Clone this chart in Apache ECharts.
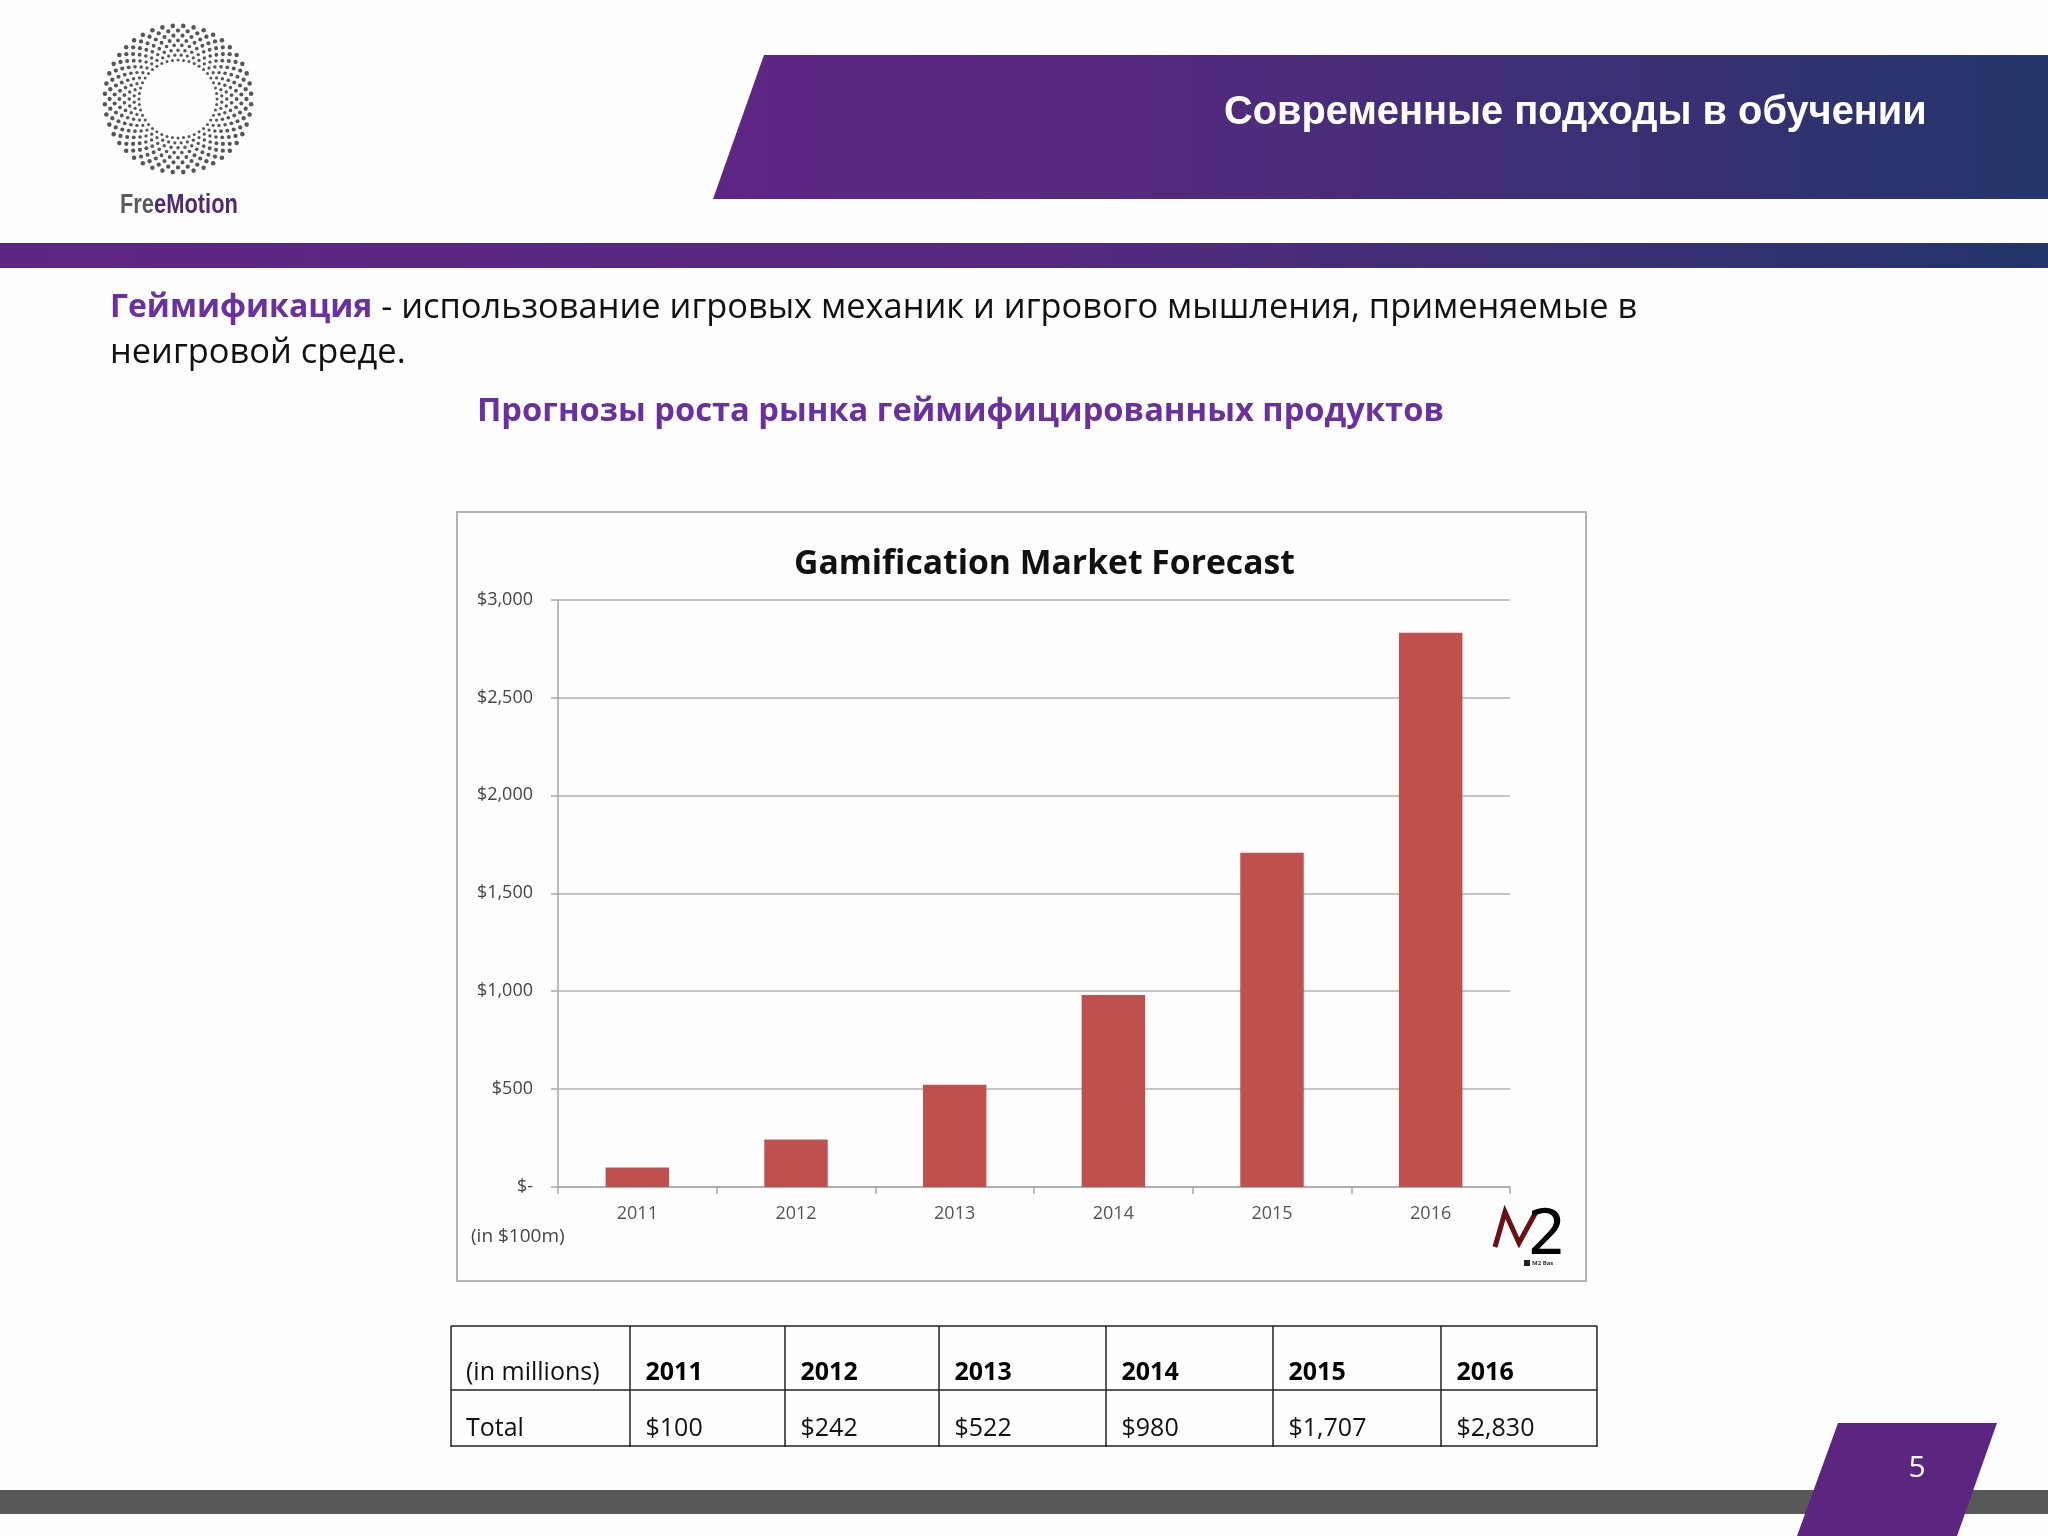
<!DOCTYPE html>
<html>
<head>
<meta charset="utf-8">
<title>Gamification Market Forecast</title>
<script src="https://cdn.jsdelivr.net/npm/echarts@6/dist/echarts.min.js"></script>
<style>
  html, body { margin: 0; padding: 0; background: #fefefe; }
  #main { width: 2048px; height: 1536px; }
</style>
</head>
<body>
<div id="main"></div>
<script>
// данные диаграммы
var years = ['2011', '2012', '2013', '2014', '2015', '2016'];
var marketValues = [100, 242, 522, 980, 1707, 2830];
var tableHeadLabel = '(in millions)';
var tableRowLabel = 'Total';
var tableValues = ['$100', '$242', '$522', '$980', '$1,707', '$2,830'];

var slideTitle = 'Современные подходы в обучении';
var termText = 'Геймификация';
var definitionLine1 = ' - использование игровых механик и игрового мышления, применяемые в';
var definitionLine2 = 'неигровой среде.';
var subTitle = 'Прогнозы роста рынка геймифицированных продуктов';
var chartTitle = 'Gamification Market Forecast';
var unitNote = '(in $100m)';
var pageNumber = '5';

var bodyFont = '"Open Sans", "Noto Sans", sans-serif';
var chart = echarts.init(document.getElementById('main'));
var elements = [];

function addText(text, x, y, size, color, weight, extra) {
  elements.push({
    type: 'text',
    x: x,
    y: y,
    style: Object.assign({
      text: text,
      fill: color,
      font: (weight || 'normal') + ' ' + size + 'px ' + bodyFont,
      textVerticalAlign: 'middle'
    }, extra || {})
  });
}

function addLine(x1, y1, x2, y2, color, width) {
  elements.push({
    type: 'line',
    shape: { x1: x1, y1: y1, x2: x2, y2: y2 },
    style: { stroke: color, lineWidth: width }
  });
}

function purpleGradient(mid) {
  return new echarts.graphic.LinearGradient(0, 0, 1, 0, [
    { offset: 0, color: '#5f2585' },
    { offset: mid, color: '#56297f' },
    { offset: 1, color: '#23356b' }
  ]);
}

// логотип: кольца из точек
var logoX = 178, logoY = 99;
for (var ring = 0; ring < 8; ring++) {
  var r = 39 + ring * 4.9;
  var count = 44;
  for (var d = 0; d < count; d++) {
    var a = (d + ring * 0.5) * Math.PI * 2 / count;
    elements.push({
      type: 'circle',
      shape: { cx: logoX + r * Math.cos(a), cy: logoY + r * Math.sin(a), r: 1.5 + ring * 0.11 },
      style: { fill: '#55555a' }
    });
  }
}
elements.push({
  type: 'text',
  x: 120,
  y: 206,
  scaleX: 0.81,
  style: {
    rich: {
      a: { fill: '#5b5b5f', font: 'bold 27px "Liberation Sans", sans-serif' },
      b: { fill: '#4d2a72', font: 'bold 27px "Liberation Sans", sans-serif' }
    },
    text: '{a|Fre}{b|eMotion}',
    textVerticalAlign: 'middle'
  }
});

// шапка
elements.push({
  type: 'polygon',
  shape: { points: [[764, 55], [2048, 55], [2048, 199], [713, 199]] },
  style: { fill: purpleGradient(0.3) }
});
elements.push({
  type: 'rect',
  shape: { x: 0, y: 243, width: 2048, height: 25 },
  style: { fill: purpleGradient(0.5) }
});
elements.push({
  type: 'text',
  x: 1224,
  y: 113,
  style: {
    text: slideTitle,
    fill: '#ffffff',
    font: 'bold 39.8px "Liberation Sans", Arial, sans-serif',
    textVerticalAlign: 'middle'
  }
});

// определение
elements.push({
  type: 'text',
  x: 110,
  y: 308,
  style: {
    rich: {
      term: { fill: '#6a2fa0', font: 'bold 32px ' + bodyFont },
      def: { fill: '#111111', font: 'normal 34.4px ' + bodyFont }
    },
    text: '{term|' + termText + '}{def|' + definitionLine1 + '}',
    textVerticalAlign: 'middle'
  }
});
addText(definitionLine2, 110, 353, 34.4, '#111111');
addText(subTitle, 477, 412, 32.7, '#6a2fa0', 'bold');

// рамка диаграммы
elements.push({
  type: 'rect',
  shape: { x: 457, y: 512, width: 1129, height: 769 },
  style: { fill: 'none', stroke: '#b3b3b3', lineWidth: 2 }
});
addText(unitNote, 471, 1237, 19, '#444444');

// логотип M2
elements.push({
  type: 'polyline',
  shape: { points: [[1495, 1247], [1505, 1212], [1519, 1243], [1536, 1212]] },
  style: { stroke: '#6a0f14', lineWidth: 5, fill: 'none' }
});
elements.push({
  type: 'text',
  x: 1547,
  y: 1238,
  style: {
    text: '2',
    fill: '#000000',
    font: 'normal 62px "DejaVu Sans", sans-serif',
    textAlign: 'center',
    textVerticalAlign: 'middle'
  }
});
elements.push({
  type: 'rect',
  shape: { x: 1524, y: 1260, width: 6, height: 6 },
  style: { fill: '#222222' }
});
addText('M2 Bas', 1532, 1263, 6, '#333333', 'bold');

// таблица
var columnEdges = [451, 630, 785, 939, 1106, 1273, 1441, 1597];
var rowEdges = [1326, 1390, 1446];
rowEdges.forEach(function(y) {
  addLine(columnEdges[0], y, columnEdges[columnEdges.length - 1], y, '#222222', 1.5);
});
columnEdges.forEach(function(x) {
  addLine(x, rowEdges[0], x, rowEdges[2] + 1, '#222222', 1.5);
});
addText(tableHeadLabel, 466, 1373, 25, '#111111');
addText(tableRowLabel, 466, 1429, 25, '#111111');
years.forEach(function(year, i) {
  addText(year, columnEdges[i + 1] + 15.5, 1373, 25, '#000000', 'bold');
  addText(tableValues[i], columnEdges[i + 1] + 15.5, 1429, 25, '#111111');
});

// подвал
elements.push({
  type: 'rect',
  shape: { x: 0, y: 1490, width: 2048, height: 24 },
  style: { fill: '#58585a' }
});
elements.push({
  type: 'polygon',
  shape: { points: [[1838, 1423], [1997, 1423], [1957, 1536], [1797, 1536]] },
  style: { fill: '#5c2580' }
});
addText(pageNumber, 1917, 1468, 30, '#ffffff', 'normal', { textAlign: 'center' });

var option = {
  backgroundColor: '#fefefe',
  animation: false,
  title: {
    text: chartTitle,
    left: 794,
    top: 547,
    padding: 0,
    textStyle: { fontFamily: bodyFont, fontSize: 33.7, fontWeight: 'bold', color: '#111111' }
  },
  grid: { left: 558, right: 538, top: 599.5, bottom: 349, containLabel: false },
  xAxis: {
    type: 'category',
    data: years,
    axisLine: { lineStyle: { color: '#a6a6a6', width: 1.5 } },
    axisTick: { show: true, length: 7, lineStyle: { color: '#a6a6a6', width: 1.5 } },
    axisLabel: { color: '#555555', fontFamily: bodyFont, fontSize: 18, margin: 18 }
  },
  yAxis: {
    type: 'value',
    min: 0,
    max: 3000,
    interval: 500,
    axisLine: { show: true, lineStyle: { color: '#a6a6a6', width: 1.5 } },
    axisTick: { show: true, length: 7, lineStyle: { color: '#a6a6a6', width: 1.5 } },
    splitLine: { lineStyle: { color: '#b0b0b0', width: 1.5 } },
    axisLabel: {
      color: '#444444',
      fontFamily: bodyFont,
      fontSize: 18,
      margin: 25,
      formatter: function(value) {
        if (value === 0) return '$-';
        return '$' + value.toLocaleString('en-US');
      }
    }
  },
  series: [{
    type: 'bar',
    data: marketValues,
    barWidth: '40%',
    itemStyle: { color: '#c0504d' }
  }],
  graphic: { elements: elements }
};
chart.setOption(option);
</script>
</body>
</html>
